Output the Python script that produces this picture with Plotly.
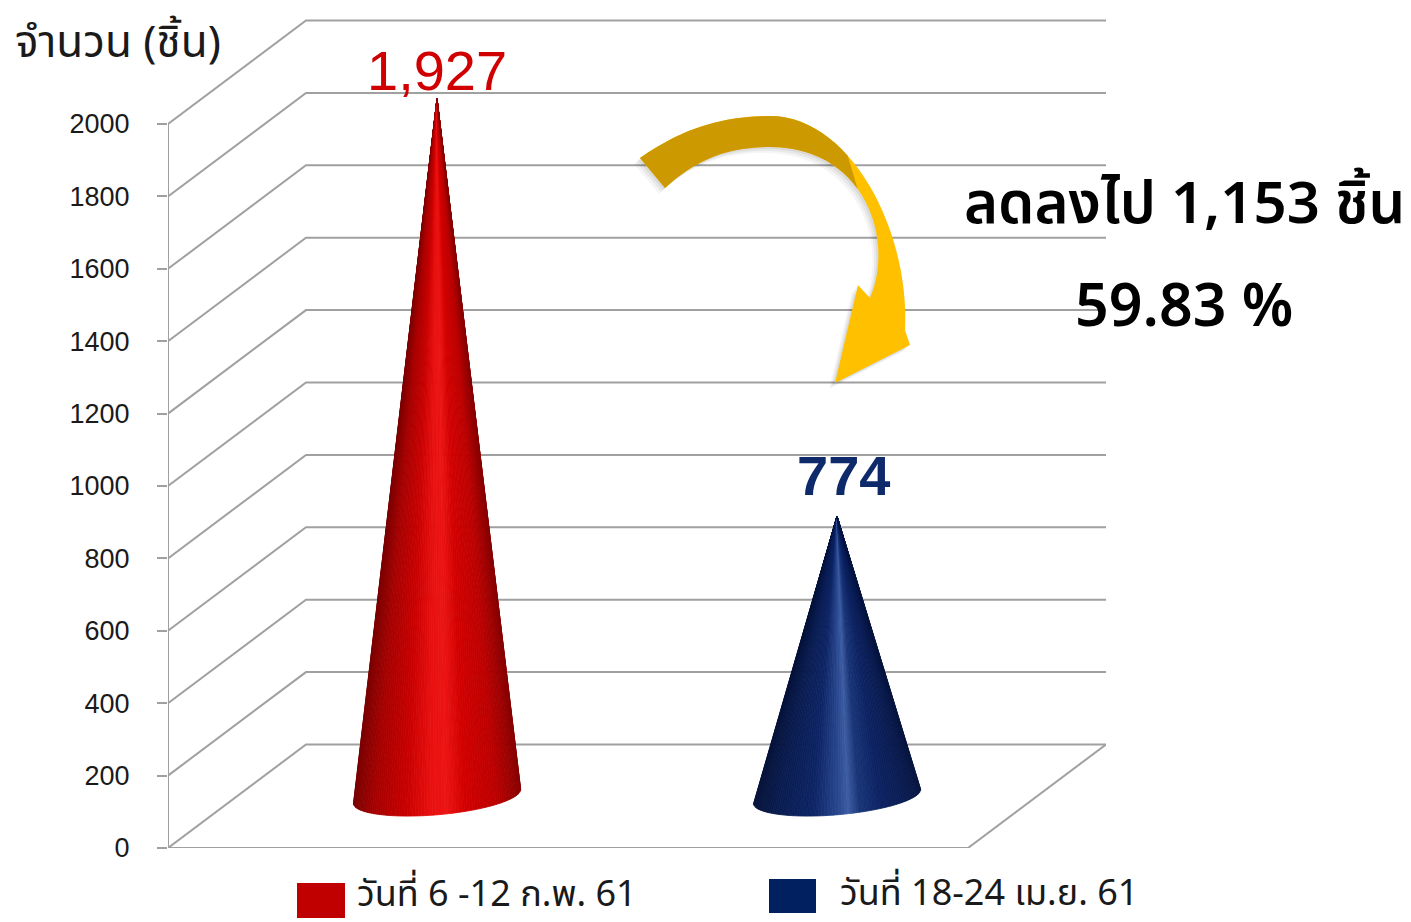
import math
import plotly.graph_objects as go

# ---------------- data ----------------
categories = ["วันที่ 6 -12 ก.พ. 61", "วันที่ 18-24 เม.ย. 61"]
values = [1927, 774]
value_labels = ["1,927", "774"]
tick_values = [0, 200, 400, 600, 800, 1000, 1200, 1400, 1600, 1800, 2000]
y_title = "จำนวน (ชิ้น)"
diff = values[0] - values[1]
note_line1 = f"ลดลงไป {diff:,} ชิ้น"
note_line2 = f"{diff / values[0] * 100:.2f} %"

# ---------------- style ----------------
series_colors = ["#C00000", "#002060"]
label_colors = ["#D00000", "#0E2A6B"]
label_bold = [False, True]
label_yshift = [28, 41]
label_xshift = [0, 6]
shade_stops = [
    [(0.0, "#7A0000"), (0.12, "#A60000"), (0.3, "#C80000"), (0.45, "#E81010"),
     (0.55, "#EC1414"), (0.66, "#D20000"), (0.85, "#BC0000"), (1.0, "#880000")],
    [(0.0, "#06133A"), (0.15, "#0A1D52"), (0.35, "#0E2566"), (0.5, "#2A4890"),
     (0.56, "#3D5DA2"), (0.63, "#1A3678"), (0.76, "#0D2363"), (0.9, "#0A1C52"),
     (1.0, "#071540")],
]
GRID = "#A0A0A0"
THAI = "Noto Sans Thai, Sarabun, Loma, Garuda, Tahoma, Liberation Sans, sans-serif"
NUM = "Liberation Sans, Arial, sans-serif"

W, H = 1411, 922
OFF = 8  # page body margin; measured page pixels -> figure pixels
PAGE_L, PAGE_R, PAGE_T, PAGE_B = 168, 1105, 18, 848
ML = PAGE_L - OFF
MT = PAGE_T - OFF
MR = W - (PAGE_R - OFF) - 1
MB = H - (PAGE_B - OFF)
PX_PER_CAT = 400.0
PX_PER_VAL = 0.362
DEPTH_DX_PX, DEPTH_DY_PX = 138.0, 103.5
CONE_A_PX, CONE_B_PX, CONE_TILT_DEG = 84.0, 18.5, 5.0

plot_w = W - ML - MR
plot_h = H - MT - MB
x_max = plot_w / PX_PER_CAT
y_max = plot_h / PX_PER_VAL
ddx = DEPTH_DX_PX / PX_PER_CAT
ddy = DEPTH_DY_PX / PX_PER_VAL
n_cat = len(categories)


def hex_rgb(h):
    h = h.lstrip("#")
    return tuple(int(h[i:i + 2], 16) for i in (0, 2, 4))


def shade(stops, u):
    for (u0, c0), (u1, c1) in zip(stops[:-1], stops[1:]):
        if u <= u1:
            f = 0 if u1 == u0 else (u - u0) / (u1 - u0)
            a, b = hex_rgb(c0), hex_rgb(c1)
            r = [round(a[k] + (b[k] - a[k]) * f) for k in range(3)]
            return f"rgb({r[0]},{r[1]},{r[2]})"
    r = hex_rgb(stops[-1][1])
    return f"rgb({r[0]},{r[1]},{r[2]})"


def to_paper(px, py):
    """page pixel -> paper coords"""
    fx, fy = px - OFF, py - OFF
    return ((fx - ML) / plot_w, (H - MB - fy) / plot_h)


fig = go.Figure()

# ---------------- 3D frame (walls / gridlines) ----------------
shapes = []
for v in tick_values:
    shapes.append(dict(type="path", xref="x", yref="y", layer="below",
                       path=f"M 0,{v} L {ddx},{v + ddy} L {x_max},{v + ddy}",
                       line=dict(color=GRID, width=2)))
shapes.append(dict(type="path", xref="x", yref="y", layer="below",
                   path=f"M 0,{tick_values[-1]} L 0,0 L {n_cat},0 L {n_cat + ddx},{ddy}",
                   line=dict(color=GRID, width=2)))

# ---------------- cones ----------------
N = 90
t = math.radians(CONE_TILT_DEG)
for i, v in enumerate(values):
    cx = i + 0.5 + ddx / 2
    cy = ddy / 2
    ax, ay = cx, cy + v
    pts = []
    for k in range(N + 1):
        phi = math.pi + math.pi * k / N
        ox = CONE_A_PX * math.cos(phi) * math.cos(t) - CONE_B_PX * math.sin(phi) * math.sin(t)
        oy = CONE_A_PX * math.cos(phi) * math.sin(t) + CONE_B_PX * math.sin(phi) * math.cos(t)
        pts.append((cx + ox / PX_PER_CAT, cy + oy / PX_PER_VAL, (1 + math.cos(phi)) / 2))
    for k in range(N):
        p0, p1 = pts[k], pts[k + 1]
        col = shade(shade_stops[i], (p0[2] + p1[2]) / 2)
        fig.add_trace(go.Scatter(
            x=[ax, p0[0], p1[0], ax], y=[ay, p0[1], p1[1], ay],
            mode="lines", fill="toself", fillcolor=col,
            line=dict(color=col, width=0.8), hoverinfo="skip", showlegend=False))
    fig.add_annotation(x=ax, y=ay, xref="x", yref="y", text=value_labels[i],
                       showarrow=False, yanchor="middle", xanchor="center",
                       yshift=label_yshift[i], xshift=label_xshift[i],
                       font=dict(family=NUM, size=56, color=label_colors[i],
                                 weight="bold" if label_bold[i] else "normal"))


# ---------------- curved arrow (decoration) ----------------
def bez(p0, p1, p2, p3, n=30):
    out = []
    for k in range(n + 1):
        s = k / n
        a, b, c, d = (1 - s) ** 3, 3 * (1 - s) ** 2 * s, 3 * (1 - s) * s ** 2, s ** 3
        out.append((a * p0[0] + b * p1[0] + c * p2[0] + d * p3[0],
                    a * p0[1] + b * p1[1] + c * p2[1] + d * p3[1]))
    return out


A, T, R = (640, 158), (770, 116), (905, 330)
B1, TIP, B2, NN = (910, 345), (835, 383), (858, 285), (870, 298)
I, CN = (770, 147), (665, 188)
outer1 = bez(A, (680, 130), (720, 116), T)
outer2 = bez(T, (850, 116), (910, 230), R)
inner1 = bez(NN, (895, 240), (865, 147), I)
inner2 = bez(I, (720, 147), (690, 165), CN)


def path_of(points):
    pp = [to_paper(*p) for p in points]
    return "M " + " L ".join(f"{x:.5f},{y:.5f}" for x, y in pp) + " Z"


full = outer1 + outer2 + [B1, TIP, B2] + inner1 + inner2
for d, op in ((6, 0.04), (4, 0.05), (2, 0.06)):
    shadow = [(x - d, y + d) for x, y in full]
    shapes.append(dict(type="path", xref="paper", yref="paper", path=path_of(shadow),
                       fillcolor=f"rgba(0,0,0,{op})", line=dict(width=0)))
shapes.append(dict(type="path", xref="paper", yref="paper", path=path_of(full),
                   fillcolor="#FFC000", line=dict(width=0)))
ko, ki = 11, 17
dark = outer1 + outer2[:ko + 1] + inner1[ki:] + inner2
shapes.append(dict(type="path", xref="paper", yref="paper", path=path_of(dark),
                   fillcolor="#CC9900", line=dict(width=0)))

# ---------------- custom legend ----------------
leg_boxes = [(297, 883, 345, 918), (769, 879, 816, 913)]
leg_text_x = [355, 838]
leg_text_y = [895, 894]
for i, name in enumerate(categories):
    x0, y0, x1, y1 = leg_boxes[i]
    p0 = to_paper(x0, y1)
    p1 = to_paper(x1, y0)
    shapes.append(dict(type="rect", xref="paper", yref="paper",
                       x0=p0[0], y0=p0[1], x1=p1[0], y1=p1[1],
                       fillcolor=series_colors[i], line=dict(width=0)))
    tx, ty = to_paper(leg_text_x[i], leg_text_y[i])
    fig.add_annotation(x=tx, y=ty, xref="paper", yref="paper", text=name,
                       showarrow=False, xanchor="left", yanchor="middle",
                       font=dict(family=THAI, size=36, color="#1A1A1A"))

# ---------------- texts ----------------
px_, py_ = to_paper(13, 44)
fig.add_annotation(x=px_, y=py_, xref="paper", yref="paper", text=y_title,
                   showarrow=False, xanchor="left", yanchor="middle",
                   font=dict(family=THAI, size=44, color="#1A1A1A"))
px_, py_ = to_paper(1184, 205)
fig.add_annotation(x=px_, y=py_, xref="paper", yref="paper", text=note_line1,
                   showarrow=False, xanchor="center", yanchor="middle",
                   font=dict(family=THAI, size=58, color="#000000", weight=600))
px_, py_ = to_paper(1184, 308)
fig.add_annotation(x=px_, y=py_, xref="paper", yref="paper", text=note_line2,
                   showarrow=False, xanchor="center", yanchor="middle",
                   font=dict(family=THAI, size=59, color="#000000", weight=600))

fig.update_layout(
    width=W, height=H,
    margin=dict(l=ML, r=MR, t=MT, b=MB),
    paper_bgcolor="white", plot_bgcolor="white",
    showlegend=False,
    shapes=shapes,
    xaxis=dict(range=[0, x_max], visible=False, fixedrange=True),
    yaxis=dict(range=[0, y_max], tickvals=tick_values,
               ticktext=[str(v) for v in tick_values],
               ticks="outside", ticklen=10, tickwidth=2, tickcolor=GRID,
               ticklabelstandoff=22,
               showgrid=False, zeroline=False, showline=False, fixedrange=True,
               tickfont=dict(family=NUM, size=27, color="#1A1A1A")),
)

fig.write_html("out.html")
